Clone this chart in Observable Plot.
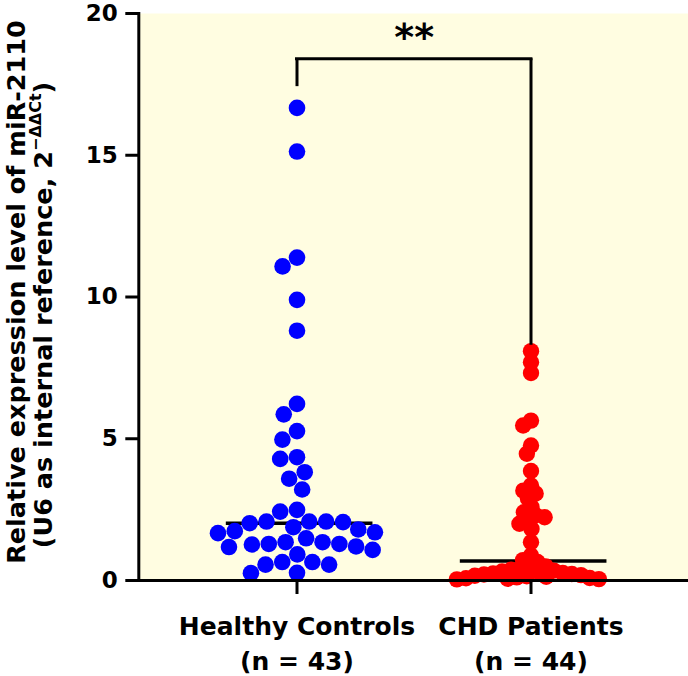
<!DOCTYPE html>
<html>
<head>
<meta charset="utf-8">
<script src="https://cdn.jsdelivr.net/npm/d3@7"></script>
<script src="https://cdn.jsdelivr.net/npm/@observablehq/plot@0.6"></script>
<style>
  body { margin: 0; background: #ffffff; }
  #chart svg { display: block; }
</style>
</head>
<body>
<div id="chart"></div>
<script>
// Groups (tick labels on the category axis)
const groups = ["Healthy Controls\n(n = 43)", "CHD Patients\n(n = 44)"];

// Relative miR-2110 expression (2^-ΔΔCt), one value per subject
const healthyValues = [
  16.67, 15.13, 11.39, 11.08, 9.90, 8.81, 6.23, 5.86, 5.27, 4.97,
  4.35, 4.29, 3.82, 3.59, 3.21, 2.49, 2.43, 2.08, 2.08, 2.08,
  2.06, 2.02, 1.88, 1.80, 1.74, 1.70, 1.67, 1.49, 1.35, 1.35,
  1.29, 1.29, 1.27, 1.20, 1.18, 1.08, 0.92, 0.65, 0.65, 0.56,
  0.56, 0.27, 0.26
];
const chdValues = [
  8.09, 7.70, 7.32, 5.64, 5.47, 4.76, 4.47, 3.86, 3.35, 3.17,
  3.07, 2.89, 2.59, 2.41, 2.30, 2.23, 2.12, 2.00, 1.82, 1.35,
  0.88, 0.72, 0.65, 0.50, 0.45, 0.41, 0.38, 0.35, 0.32, 0.30,
  0.27, 0.25, 0.23, 0.21, 0.19, 0.17, 0.15, 0.13, 0.11, 0.09,
  0.08, 0.06, 0.05, 0.04
];

// Value axis ticks
const yTicks = [0, 5, 10, 15, 20];

// Significance bracket: top level, lower end of each leg, and its label
const bracketTop = 18.4;
const bracketLegEnds = [17.42, 8.3];
const significanceLabel = "**";
const significanceLevel = 19.15;

// Tidy tables built from the arrays above
const healthy = healthyValues.map(value => ({group: groups[0], value}));
const chd = chdValues.map(value => ({group: groups[1], value}));
const points = healthy.concat(chd);
const legs = groups.map((group, i) => ({group, bottom: bracketLegEnds[i]}));

// Layout
const WIDTH = 688, HEIGHT = 676;
const MARGIN = {top: 13, right: 0, bottom: 96, left: 138};
const PAD_INNER = 0.1;
const PAD_OUTER = 0.2252;
const innerWidth = WIDTH - MARGIN.left - MARGIN.right;
const step = innerWidth / (groups.length - PAD_INNER + 2 * PAD_OUTER);
const outerGap = PAD_OUTER * step;            // frame edge to first/last band, px
const toNextGroup = 2 / (1 - PAD_INNER);      // centre-to-centre distance in x units (x spans -1..1 per band)

const FONT = "DejaVu Sans";
const wholeFrame = {facet: "super", insetLeft: -outerGap, insetRight: -outerGap};

const chart = Plot.plot({
  width: WIDTH,
  height: HEIGHT,
  marginTop: MARGIN.top,
  marginBottom: MARGIN.bottom,
  marginLeft: MARGIN.left,
  marginRight: MARGIN.right,
  style: {fontFamily: FONT, fontWeight: "bold", color: "#000000", background: "#ffffff", overflow: "visible"},
  fx: {domain: groups, paddingInner: PAD_INNER, paddingOuter: PAD_OUTER, axis: null, label: null},
  x: {domain: [-1, 1], axis: null},
  y: {domain: [0, 20], axis: null},
  marks: [
    // plotting area background
    Plot.frame({...wholeFrame, fill: "#fffde1", stroke: "none"}),

    // median line per group
    Plot.ruleY(points, Plot.groupZ({y: "median"}, {
      fx: "group", y: "value", x1: -0.67, x2: 0.72, stroke: "#000", strokeWidth: 3.5
    })),

    // individual subjects
    Plot.dot(healthy, Plot.dodgeX({anchor: "middle", r: 8.3, padding: 0.3}, {
      fx: "group", y: "value", r: 8.3, fill: "#0000ff", stroke: "none"
    })),
    Plot.dot(chd, Plot.dodgeX({anchor: "middle", r: 4.6, padding: 0}, {
      fx: "group", y: "value", r: 8.2, fill: "#ff0000", stroke: "none"
    })),

    // significance bracket
    Plot.ruleX(legs, {fx: "group", x: 0, y1: "bottom", y2: bracketTop, stroke: "#000", strokeWidth: 3}),
    Plot.ruleY([{group: groups[0]}], {fx: "group", y: bracketTop, x1: 0, x2: toNextGroup, stroke: "#000", strokeWidth: 3, strokeLinecap: "square"}),
    Plot.text([{group: groups[0], label: significanceLabel}], {
      fx: "group", x: toNextGroup / 2, y: significanceLevel, text: "label",
      fontSize: 38, fontWeight: "bold", lineAnchor: "middle"
    }),

    // axis lines
    Plot.frame({...wholeFrame, anchor: "left", stroke: "#000", strokeWidth: 3}),
    Plot.frame({...wholeFrame, anchor: "bottom", stroke: "#000", strokeWidth: 3}),

    // axes (the value axis sits on the frame edge, left of the first band)
    Plot.axisY({ticks: yTicks, tickSize: 13, tickPadding: 8, strokeWidth: 3, fontSize: 23, label: null, dx: -outerGap}),
    Plot.axisFx({anchor: "bottom", tickSize: 14, tickPadding: 16, strokeWidth: 3, fontSize: 25, lineHeight: 1.4, label: null})
  ]
});

document.getElementById("chart").appendChild(chart);

// Two-line rotated title of the value axis (with a superscript exponent)
const svg = d3.select(chart.tagName.toLowerCase() === "svg" ? chart : chart.querySelector("svg"));
const title = svg.append("g")
  .attr("font-family", FONT)
  .attr("font-weight", "bold")
  .attr("font-size", 25.5)
  .attr("fill", "#000")
  .attr("text-anchor", "middle");

title.append("text")
  .attr("transform", "translate(25,292) rotate(-90)")
  .text("Relative expression level of miR-2110");

const line2 = title.append("text")
  .attr("transform", "translate(52,315) rotate(-90)");
line2.append("tspan").text("(U6 as internal reference, 2");
line2.append("tspan").attr("font-size", 16).attr("dy", -11).text("\u2212\u0394\u0394Ct");
line2.append("tspan").attr("dy", 11).text(")");
</script>
</body>
</html>
